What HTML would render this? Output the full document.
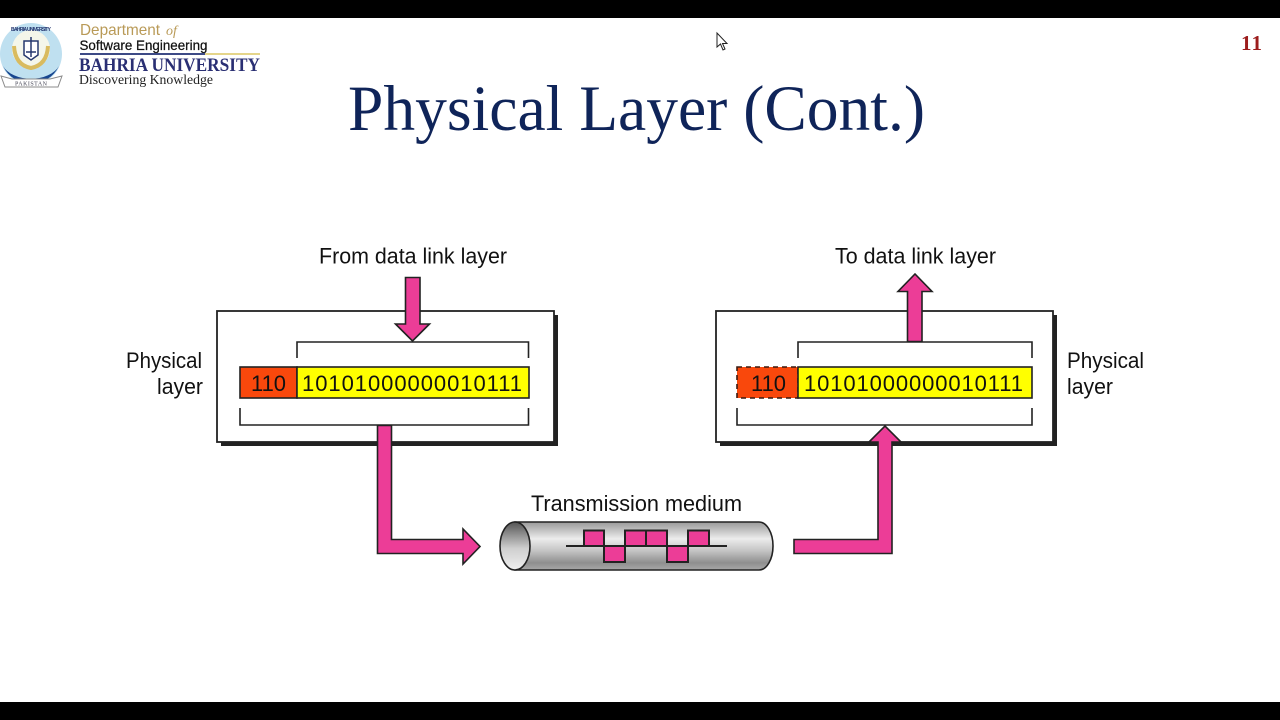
<!DOCTYPE html>
<html lang="en">
<head>
<meta charset="utf-8">
<title>Physical Layer (Cont.)</title>
<style>
html,body{margin:0;padding:0;width:1280px;height:720px;overflow:hidden;background:#fff}
svg{display:block}
.s{font-family:"Liberation Sans",sans-serif;fill:#111}
.t{font-family:"Liberation Serif",serif}
</style>
</head>
<body>
<svg width="1280" height="720" viewBox="0 0 1280 720" xmlns="http://www.w3.org/2000/svg">
<defs>
<linearGradient id="cyl" x1="0" y1="0" x2="0" y2="1">
<stop offset="0" stop-color="#9a9a9a"/><stop offset=".12" stop-color="#b5b5b5"/><stop offset=".35" stop-color="#ececec"/><stop offset=".6" stop-color="#c4c4c4"/><stop offset=".85" stop-color="#8f8f8f"/><stop offset="1" stop-color="#a8a8a8"/>
</linearGradient>
<linearGradient id="hole" x1="0" y1="0" x2="0" y2="1">
<stop offset="0" stop-color="#555"/><stop offset=".55" stop-color="#cfcfcf"/><stop offset="1" stop-color="#efefef"/>
</linearGradient>
</defs>
<rect width="1280" height="720" fill="#fff"/>
<rect width="1280" height="18" fill="#000"/>
<rect y="702" width="1280" height="18" fill="#000"/>

<!-- logo -->
<circle cx="31" cy="54" r="31" fill="#bfe0f0"/>
<path d="M3 66 A31 31 0 0 0 59 66 A30 20 0 0 1 3 66Z" fill="#17458f"/>
<circle cx="31" cy="49" r="19" fill="#f4f6ea"/>
<path d="M14 46 Q15 65 31 68 Q47 65 48 46" fill="none" stroke="#d9bb5f" stroke-width="4"/>
<path d="M24 41h14v14l-7 5-7-5z" fill="#fff" stroke="#26386e" stroke-width="1.500"/>
<path d="M31 37v20M26 52h10" stroke="#26386e" stroke-width="1.500"/>
<path d="M1 76 L12 79 L50 79 L62 76 L58 87 L5 87Z" fill="#fff" stroke="#8b8b8b"/>
<text x="31" y="85.500" font-size="6" text-anchor="middle" class="t" fill="#445" textLength="32">PAKISTAN</text>
<text x="31" y="31" font-size="5" text-anchor="middle" class="s" style="fill:#23346e;font-weight:bold" textLength="40">BAHRIA UNIVERSITY</text>
<text x="80" y="35" font-size="16" class="s" style="fill:#b99a57" textLength="80" lengthAdjust="spacingAndGlyphs">Department</text>
<text x="166" y="35" font-size="14" class="t" font-style="italic" fill="#b99a57">of</text>
<text x="79.500" y="50" font-size="14" class="s" style="fill:#111;stroke:#111;stroke-width:.25" textLength="128" lengthAdjust="spacingAndGlyphs">Software Engineering</text>
<rect x="80" y="53" width="125" height="2" fill="#3d4a86"/>
<rect x="205" y="53" width="55" height="2" fill="#e5d58a"/>
<text x="79" y="71" font-size="19" class="t" font-weight="bold" fill="#2a2f73" textLength="181" lengthAdjust="spacingAndGlyphs">BAHRIA UNIVERSITY</text>
<text x="79" y="84" font-size="14" class="t" fill="#222" textLength="134" lengthAdjust="spacingAndGlyphs">Discovering Knowledge</text>

<!-- title and page number -->
<text x="348" y="130" font-size="65" class="t" fill="#0f2459" textLength="577" lengthAdjust="spacingAndGlyphs">Physical Layer (Cont.)</text>
<text x="1241" y="50" font-size="21" class="t" font-weight="bold" fill="#9c1c1c" textLength="21">11</text>

<!-- cursor -->
<path d="M717 33 V47 L720.500 44 L723 50 L725 49 L722.500 43.500 L727 43.500Z" fill="#fff" stroke="#222" stroke-width="1"/>

<!-- left box -->
<rect x="221" y="315" width="337" height="131" fill="#222"/>
<rect x="217" y="311" width="337" height="131" fill="#fff" stroke="#222" stroke-width="1.800"/>
<path d="M297 358V342H528.500V358M240 408V425H528.500V408" fill="none" stroke="#222" stroke-width="1.600"/>
<rect x="240" y="367" width="57" height="31" fill="#f9480c" stroke="#222" stroke-width="1.600"/>
<rect x="297" y="367" width="232" height="31" fill="#ffff00" stroke="#222" stroke-width="1.600"/>
<text x="251" y="391" font-size="22" class="s" textLength="35" lengthAdjust="spacingAndGlyphs">110</text>
<text x="302" y="391" font-size="22" class="s" textLength="220">10101000000010111</text>
<path d="M405.500 277.500H420V324H429.500L412.500 341L395.500 324H405.500Z" fill="#ec3d97" stroke="#222" stroke-width="1.600"/>
<text x="319" y="263.500" font-size="22" class="s" textLength="188" lengthAdjust="spacingAndGlyphs">From data link layer</text>
<text x="126" y="368" font-size="22" class="s" textLength="76" lengthAdjust="spacingAndGlyphs">Physical</text>
<text x="157" y="394" font-size="22" class="s" textLength="46" lengthAdjust="spacingAndGlyphs">layer</text>

<!-- right box -->
<rect x="720" y="315" width="337" height="131" fill="#222"/>
<rect x="716" y="311" width="337" height="131" fill="#fff" stroke="#222" stroke-width="1.800"/>
<path d="M798 358V342H1032V358M737 408V425H1032V408" fill="none" stroke="#222" stroke-width="1.600"/>
<rect x="737" y="367" width="61" height="31" fill="#f9480c" stroke="#3a1a10" stroke-width="1.600" stroke-dasharray="5 4"/>
<rect x="798" y="367" width="234" height="31" fill="#ffff00" stroke="#222" stroke-width="1.600"/>
<text x="751" y="391" font-size="22" class="s" textLength="35" lengthAdjust="spacingAndGlyphs">110</text>
<text x="804" y="391" font-size="22" class="s" textLength="219">10101000000010111</text>
<path d="M907.500 341.500V291.500H898L915 274L932 291.500H922V341.500Z" fill="#ec3d97" stroke="#222" stroke-width="1.600"/>
<text x="835" y="263.500" font-size="22" class="s" textLength="161" lengthAdjust="spacingAndGlyphs">To data link layer</text>
<text x="1067" y="368" font-size="22" class="s" textLength="77" lengthAdjust="spacingAndGlyphs">Physical</text>
<text x="1067" y="394" font-size="22" class="s" textLength="46" lengthAdjust="spacingAndGlyphs">layer</text>

<!-- connectors -->
<path d="M377.500 425.500H391.500V539.500H463V529L480 546.500L463 564V553.500H377.500Z" fill="#ec3d97" stroke="#222" stroke-width="1.600"/>
<path d="M794 539.500H878V442H869L885 426L901 442H892V553.500H794Z" fill="#ec3d97" stroke="#222" stroke-width="1.600"/>

<!-- medium -->
<text x="531" y="511" font-size="22" class="s" textLength="211" lengthAdjust="spacingAndGlyphs">Transmission medium</text>
<path d="M515 522H759A14 24 0 0 1 759 570H515Z" fill="url(#cyl)" stroke="#222" stroke-width="1.600"/>
<ellipse cx="515" cy="546" rx="15" ry="24" fill="url(#hole)" stroke="#222" stroke-width="1.600"/>
<path d="M584 546V530.500H604V562H625V530.500H667V562H688V530.500H709V546Z" fill="#ec3d97"/>
<path d="M566 546H727M584 546V530.500H604V562H625V530.500H667V562H688V530.500H709V546M646 530.500V546" fill="none" stroke="#222" stroke-width="2"/>
</svg>
</body>
</html>
